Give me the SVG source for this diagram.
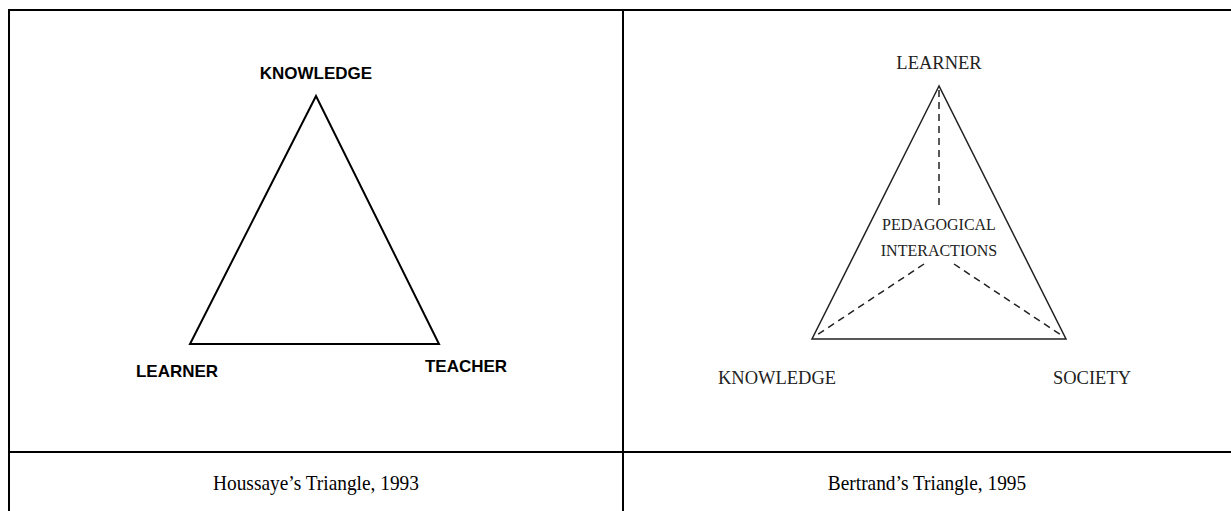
<svg xmlns="http://www.w3.org/2000/svg" width="1231" height="511" viewBox="0 0 1231 511">
<style>
.frame{stroke:#000;stroke-width:2;fill:none}
.tri{stroke:#000;stroke-width:2;fill:none;stroke-linejoin:miter}
.tri2{stroke:#222;stroke-width:1.5;fill:none}
.dash{stroke:#222;stroke-width:1.5;fill:none;stroke-dasharray:7 5}
.lab{font-family:"Liberation Sans",Arial,sans-serif;font-weight:bold;font-size:17px;fill:#000}
.ser{font-family:"Liberation Serif","Times New Roman",serif;font-size:18.5px;fill:#222}
.ser2{font-family:"Liberation Serif","Times New Roman",serif;font-size:16px;fill:#222}
.cap{font-family:"Liberation Serif","Times New Roman",serif;font-size:22px;fill:#000}
</style>
<rect width="1231" height="511" fill="#fff"/>
<g id="table">
<path class="frame" d="M9 520 V10 H1240 M623 10 V520 M9 452 H1240"/>
</g>
<g id="houssaye">
<polygon class="tri" points="316,96 190,344 439,344"/>
<text class="lab" x="316" y="79" text-anchor="middle">KNOWLEDGE</text>
<text class="lab" x="177" y="377" text-anchor="middle">LEARNER</text>
<text class="lab" x="466" y="372" text-anchor="middle">TEACHER</text>
<text class="cap" transform="translate(316 490) scale(0.88 1)" text-anchor="middle">Houssaye’s Triangle, 1993</text>
</g>
<g id="bertrand">
<polygon class="tri2" points="939,86 812,339 1066,339"/>
<g id="connectors">
<path class="dash" d="M939 90 V205"/>
<path class="dash" d="M924 264 L814 337"/>
<path class="dash" d="M954 264 L1064 337"/>
</g>
<text class="ser" x="939" y="69" text-anchor="middle">LEARNER</text>
<text class="ser2" x="939" y="230" text-anchor="middle">PEDAGOGICAL</text>
<text class="ser2" x="939" y="256" text-anchor="middle">INTERACTIONS</text>
<text class="ser" x="777" y="384" text-anchor="middle">KNOWLEDGE</text>
<text class="ser" x="1092" y="384" text-anchor="middle">SOCIETY</text>
<text class="cap" transform="translate(927 490) scale(0.88 1)" text-anchor="middle">Bertrand’s Triangle, 1995</text>
</g>
</svg>
